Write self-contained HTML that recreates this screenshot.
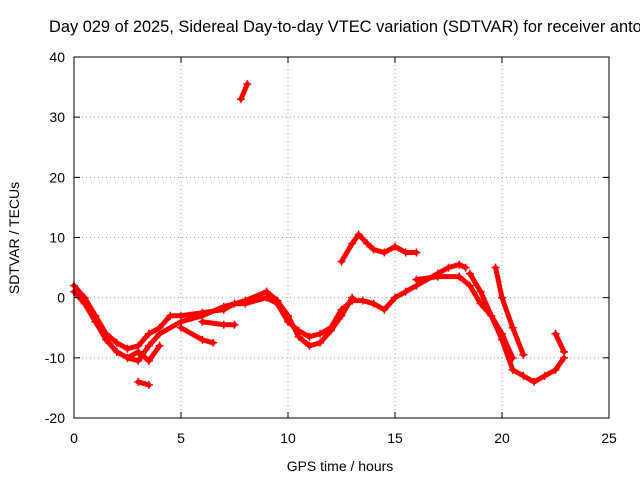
<!DOCTYPE html>
<html><head><meta charset="utf-8"><style>
html,body{margin:0;padding:0;background:#fff;width:640px;height:480px;overflow:hidden}
svg{display:block;font-family:"Liberation Sans",sans-serif}
</style></head><body>
<svg id="chart" width="640" height="480" viewBox="0 0 640 480">
<text x="49" y="32" font-size="16.4" fill="#000">Day 029 of 2025, Sidereal Day-to-day VTEC variation (SDTVAR) for receiver anto</text>
<g id="grid"></g>
<g id="series"></g>
<rect x="74" y="57" width="535" height="361" fill="none" stroke="#000" stroke-width="1"/>
<g id="ticks"></g>
<text x="340" y="471" font-size="14" text-anchor="middle">GPS time / hours</text>
<text transform="translate(19,238) rotate(-90)" font-size="14" text-anchor="middle">SDTVAR / TECUs</text>
</svg>
<script>
const xTicks=[0,5,10,15,20,25];
const yTicks=[-20,-10,0,10,20,30,40];
const trackA=[[0,2],[0.5,0],[1,-3],[1.5,-6],[2,-7.5],[2.5,-8.5],[3,-8],[3.5,-6],[4,-5],[4.5,-3],[5,-3],[6,-2.5],[7,-2],[7.5,-1],[8,-1],[9,0],[9.5,-1],[10,-4],[10.5,-5.5],[11,-6.5],[11.5,-6],[12,-5],[12.5,-2],[13,-0.5],[13.5,-0.5],[14,-1],[14.5,-2],[15,0],[15.5,1],[16,2],[17,4],[17.5,5],[18,5.5],[18.3,5]];
const trackB=[[0,1],[0.5,-1],[1,-4],[1.5,-7],[2,-9],[2.5,-10],[3,-10.5],[3.5,-8],[4,-6],[5,-4],[6,-3],[7,-1.5],[8,-0.5],[9,1],[9.5,-0.5],[10,-3],[10.5,-6.5],[11,-8],[11.5,-7.5],[12,-5.5],[12.5,-3],[13,0]];
const trackC=[[12.5,6],[13,9],[13.3,10.5],[13.7,9],[14,8],[14.5,7.5],[15,8.5],[15.5,7.5],[16,7.5]];
const trackD=[[7.8,33],[8.1,35.5]];
const trackE=[[3,-14],[3.5,-14.5]];
const trackF=[[18.5,4],[19,1],[19.5,-3],[20,-7],[20.5,-12],[21,-13],[21.5,-14],[22,-13],[22.5,-12],[22.9,-10]];
const trackG=[[19.7,5],[20,0],[20.5,-5],[21,-9.5]];
const trackH=[[16,3],[17,3.5],[18,3.5],[18.5,2],[19,-1],[19.5,-3],[20,-6],[20.5,-10]];
const trackI=[[22.5,-6],[22.9,-9]];
const trackJ=[[5,-5],[6,-7],[6.5,-7.5]];
const trackK=[[6,-4],[7,-4.5],[7.5,-4.5]];
const trackL=[[2.5,-10],[3,-9],[3.5,-10.5],[4,-8]];
const tracks=[trackA,trackB,trackC,trackD,trackE,trackF,trackG,trackH,trackI,trackJ,trackK,trackL];
const X0=74,X1=609,Y0=418,Y1=57;
function xs(v){return X0+(v-0)/(25-0)*(X1-X0);}
function ys(v){return Y0-(v+20)/(60)*(Y0-Y1);}
const NS='http://www.w3.org/2000/svg';
function mk(t,a,p){const e=document.createElementNS(NS,t);for(const k in a)e.setAttribute(k,a[k]);p.appendChild(e);return e;}
const grid=document.getElementById('grid'),ticks=document.getElementById('ticks'),ser=document.getElementById('series');
xTicks.forEach(v=>{const x=xs(v);
 if(v>0&&v<25){const l=mk('line',{x1:x,y1:Y0,x2:x,y2:Y1,stroke:'#a0a0a0','stroke-dasharray':'1,3'},grid);}
 mk('line',{x1:x,y1:Y0,x2:x,y2:Y0-6,stroke:'#000'},ticks);mk('line',{x1:x,y1:Y1,x2:x,y2:Y1+6,stroke:'#000'},ticks);
 const t=mk('text',{x:x,y:443,'font-size':14,'text-anchor':'middle'},ticks);t.textContent=v;
 });
yTicks.forEach(v=>{const y=ys(v);
 if(v>-20&&v<40){const l=mk('line',{x1:X0,y1:y,x2:X1,y2:y,stroke:'#a0a0a0','stroke-dasharray':'1,3'},grid);}
 mk('line',{x1:X0,y1:y,x2:X0+6,y2:y,stroke:'#000'},ticks);mk('line',{x1:X1,y1:y,x2:X1-6,y2:y,stroke:'#000'},ticks);
 const t=mk('text',{x:X0-9,y:y+5,'font-size':14,'text-anchor':'end'},ticks);t.textContent=v;
 });
tracks.forEach(tr=>{
 const pl=mk('polyline',{points:tr.map(p=>xs(p[0])+','+ys(p[1])).join(' '),fill:'none',stroke:'#f00','stroke-width':5,'stroke-linejoin':'round','stroke-linecap':'round'},ser);
 
 
 tr.forEach(p=>{const x=xs(p[0]),y=ys(p[1]);
  const m=mk('path',{d:`M${x-4},${y}H${x+4}M${x},${y-4}V${y+4}`,stroke:'#f00','stroke-width':1.5},ser);
  
  });
});
</script>
</body></html>
